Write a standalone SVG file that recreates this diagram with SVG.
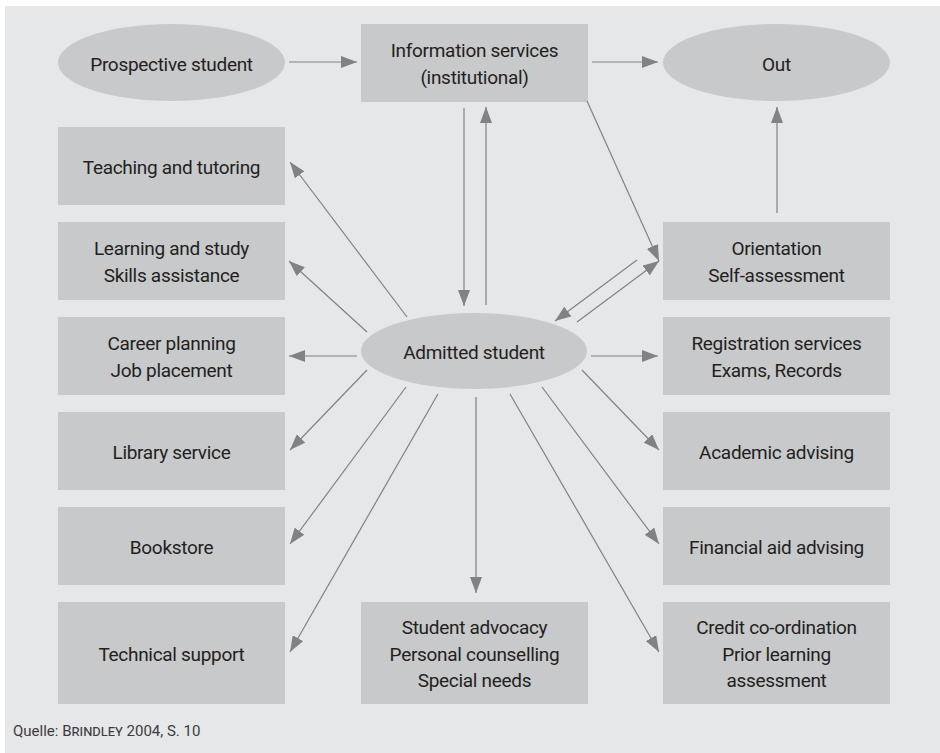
<svg xmlns="http://www.w3.org/2000/svg" width="940" height="753" viewBox="0 0 940 753">
<style>
.n{fill:#c8c9cb}
.t{font-family:Roboto,"Liberation Sans",sans-serif;font-size:19px;letter-spacing:-0.3px;fill:#231f20;text-anchor:middle}
.c line{stroke:#808285;stroke-width:1.2;marker-end:url(#ah)}
.cap{font-family:Roboto,"Liberation Sans",sans-serif;font-size:15px;fill:#3c3c3e}
</style>
<defs>
<marker id="ah" markerUnits="userSpaceOnUse" markerWidth="16" markerHeight="12" refX="16" refY="6" orient="auto" viewBox="0 0 16 12">
<path d="M0,0 L16,6 L0,12 z" fill="#808285"/>
</marker>
</defs>
<rect x="5" y="6" width="935" height="747" fill="#e6e7e8"/>

<g id="prospective"><ellipse class="n" cx="171.5" cy="62.5" rx="113.5" ry="38.5"/><text class="t" x="171.5" y="71">Prospective student</text></g>
<g id="info"><rect class="n" x="361" y="24" width="227" height="78"/><text class="t" x="474.5" y="57">Information services</text><text class="t" x="474.5" y="83.5">(institutional)</text></g>
<g id="out"><ellipse class="n" cx="776.5" cy="62.5" rx="113.5" ry="38.5"/><text class="t" x="776.5" y="71">Out</text></g>

<g id="teaching"><rect class="n" x="58" y="127" width="227" height="78"/><text class="t" x="171.5" y="174">Teaching and tutoring</text></g>
<g id="learning"><rect class="n" x="58" y="222" width="227" height="78"/><text class="t" x="171.5" y="255">Learning and study</text><text class="t" x="171.5" y="281.5">Skills assistance</text></g>
<g id="career"><rect class="n" x="58" y="317" width="227" height="78"/><text class="t" x="171.5" y="350">Career planning</text><text class="t" x="171.5" y="376.5">Job placement</text></g>
<g id="library"><rect class="n" x="58" y="412" width="227" height="78"/><text class="t" x="171.5" y="459">Library service</text></g>
<g id="bookstore"><rect class="n" x="58" y="507" width="227" height="78"/><text class="t" x="171.5" y="554">Bookstore</text></g>
<g id="technical"><rect class="n" x="58" y="602" width="227" height="102"/><text class="t" x="171.5" y="661">Technical support</text></g>

<g id="admitted"><ellipse class="n" cx="474" cy="351" rx="113" ry="38"/><text class="t" x="474" y="359">Admitted student</text></g>
<g id="advocacy"><rect class="n" x="361" y="602" width="227" height="102"/><text class="t" x="474.5" y="634">Student advocacy</text><text class="t" x="474.5" y="660.5">Personal counselling</text><text class="t" x="474.5" y="687">Special needs</text></g>

<g id="orientation"><rect class="n" x="663" y="222" width="227" height="78"/><text class="t" x="776.5" y="255">Orientation</text><text class="t" x="776.5" y="281.5">Self-assessment</text></g>
<g id="registration"><rect class="n" x="663" y="317" width="227" height="78"/><text class="t" x="776.5" y="350">Registration services</text><text class="t" x="776.5" y="376.5">Exams, Records</text></g>
<g id="academic"><rect class="n" x="663" y="412" width="227" height="78"/><text class="t" x="776.5" y="459">Academic advising</text></g>
<g id="financial"><rect class="n" x="663" y="507" width="227" height="78"/><text class="t" x="776.5" y="554">Financial aid advising</text></g>
<g id="credit"><rect class="n" x="663" y="602" width="227" height="102"/><text class="t" x="776.5" y="634">Credit co-ordination</text><text class="t" x="776.5" y="660.5">Prior learning</text><text class="t" x="776.5" y="687">assessment</text></g>

<g id="connectors" class="c">
<line x1="289" y1="62" x2="357" y2="62"/>
<line x1="592" y1="62" x2="658" y2="62"/>
<line x1="464" y1="108" x2="464" y2="306"/>
<line x1="486" y1="305" x2="486" y2="107"/>
<line x1="587" y1="101" x2="659" y2="261"/>
<line x1="637" y1="260" x2="555" y2="321"/>
<line x1="577" y1="322" x2="659" y2="261"/>
<line x1="777" y1="213" x2="777" y2="107"/>
<line x1="407" y1="317" x2="290" y2="162"/>
<line x1="367" y1="332" x2="289" y2="261"/>
<line x1="357" y1="356" x2="289" y2="356"/>
<line x1="367" y1="370" x2="290" y2="450"/>
<line x1="406" y1="387" x2="290" y2="544"/>
<line x1="438" y1="394" x2="290" y2="652"/>
<line x1="476" y1="397" x2="476" y2="593"/>
<line x1="510" y1="394" x2="659" y2="652"/>
<line x1="542" y1="387" x2="659" y2="544"/>
<line x1="582" y1="370" x2="659" y2="450"/>
<line x1="591" y1="356" x2="658" y2="356"/>
</g>

<text class="cap" x="13" y="736">Quelle: <tspan font-variant="small-caps">Brindley</tspan> 2004, S. 10</text>
</svg>
